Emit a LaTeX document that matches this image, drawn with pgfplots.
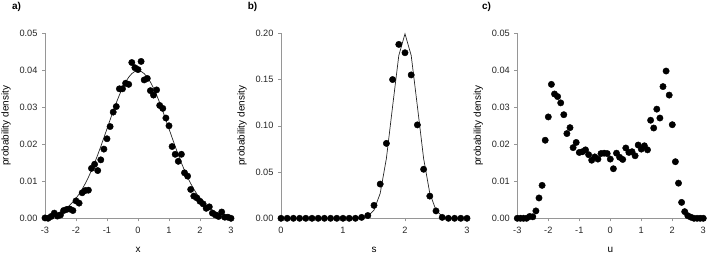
\documentclass[border=0pt]{standalone}
\usepackage{fontspec}
\setmainfont{Liberation Sans}
\usepackage{pgfplots}
\pgfplotsset{compat=1.18}
\definecolor{axgray}{RGB}{150,150,150}
\pgfplotsset{
  panel/.style={
    scale only axis, width=186bp, height=185bp,
    anchor=south west,
    axis lines*=left,
    axis line style={axgray, line width=0.6pt},
    tick style={axgray, line width=0.6pt},
    tick align=outside, major tick length=3bp,
    xtick pos=bottom, ytick pos=left,
    ymin=0,
    clip=false,
    scaled y ticks=false,
    tick label style={font=\fontsize{9.2bp}{10bp}\selectfont, text=black!85},
    label style={font=\fontsize{11bp}{12bp}\selectfont, text=black!85},
    /pgf/number format/assume math mode=true,
    yticklabel style={/pgf/number format/fixed, /pgf/number format/fixed zerofill, /pgf/number format/precision=2, xshift=-1bp},
    xticklabel style={/pgf/number format/fixed, yshift=-2bp},
    ylabel={probability density},
    every axis y label/.style={at={(rel axis cs:0,0.5)}, anchor=center, rotate=90, yshift=39bp},
    every axis x label/.style={at={(rel axis cs:0.5,0)}, anchor=center, yshift=-32bp},
  },
  dots/.style={only marks, mark=*, mark size=3.2bp, mark options={fill=black, draw=black}, black},
  curve/.style={black!85, line width=0.7pt, mark=none},
}
\pgfplotstableread{
x y
-3.0 0.0001
-2.9 0.0000
-2.8 0.0005
-2.7 0.0014
-2.6 0.0006
-2.5 0.0009
-2.4 0.0021
-2.3 0.0024
-2.2 0.0025
-2.1 0.0021
-2.0 0.0047
-1.9 0.0041
-1.8 0.0069
-1.7 0.0075
-1.6 0.0076
-1.5 0.0135
-1.4 0.0146
-1.3 0.0129
-1.2 0.0158
-1.1 0.0187
-1.0 0.0215
-0.9 0.0248
-0.8 0.0287
-0.7 0.0302
-0.6 0.0350
-0.5 0.0350
-0.4 0.0365
-0.3 0.0362
-0.2 0.0421
-0.1 0.0407
0.0 0.0402
0.1 0.0424
0.2 0.0374
0.3 0.0378
0.4 0.0345
0.5 0.0333
0.6 0.0347
0.7 0.0305
0.8 0.0297
0.9 0.0271
1.0 0.0250
1.1 0.0194
1.2 0.0173
1.3 0.0154
1.4 0.0173
1.5 0.0123
1.6 0.0114
1.7 0.0078
1.8 0.0060
1.9 0.0055
2.0 0.0046
2.1 0.0039
2.2 0.0027
2.3 0.0031
2.4 0.0014
2.5 0.0009
2.6 0.0005
2.7 0.0017
2.8 0.0003
2.9 0.0003
3.0 0.0000
}\dataA
\pgfplotstableread{
x y
-3.0 0.00044
-2.9 0.00060
-2.8 0.00079
-2.7 0.00104
-2.6 0.00136
-2.5 0.00175
-2.4 0.00224
-2.3 0.00283
-2.2 0.00355
-2.1 0.00440
-2.0 0.00540
-1.9 0.00656
-1.8 0.00790
-1.7 0.00940
-1.6 0.01109
-1.5 0.01295
-1.4 0.01497
-1.3 0.01714
-1.2 0.01942
-1.1 0.02179
-1.0 0.02420
-0.9 0.02661
-0.8 0.02897
-0.7 0.03123
-0.6 0.03332
-0.5 0.03521
-0.4 0.03683
-0.3 0.03814
-0.2 0.03910
-0.1 0.03970
0.0 0.03989
0.1 0.03970
0.2 0.03910
0.3 0.03814
0.4 0.03683
0.5 0.03521
0.6 0.03332
0.7 0.03123
0.8 0.02897
0.9 0.02661
1.0 0.02420
1.1 0.02179
1.2 0.01942
1.3 0.01714
1.4 0.01497
1.5 0.01295
1.6 0.01109
1.7 0.00940
1.8 0.00790
1.9 0.00656
2.0 0.00540
2.1 0.00440
2.2 0.00355
2.3 0.00283
2.4 0.00224
2.5 0.00175
2.6 0.00136
2.7 0.00104
2.8 0.00079
2.9 0.00060
3.0 0.00044
}\curveA
\pgfplotstableread{
x y
0.0 0
0.1 0
0.2 0
0.3 0
0.4 0
0.5 0
0.6 0
0.7 0
0.8 0
0.9 0
1.0 0
1.1 0
1.2 0
1.3 0.001
1.4 0.003
1.5 0.014
1.6 0.037
1.7 0.081
1.8 0.150
1.9 0.188
2.0 0.179
2.1 0.155
2.2 0.101
2.3 0.053
2.4 0.024
2.5 0.008
2.6 0.001
2.7 0
2.8 0
2.9 0
3.0 0
}\dataB
\pgfplotstableread{
x y
1.1 0.00000
1.2 0.00007
1.3 0.00044
1.4 0.00222
1.5 0.00876
1.6 0.02700
1.7 0.06476
1.8 0.12098
1.9 0.17603
2.0 0.19947
2.1 0.17603
2.2 0.12098
2.3 0.06476
2.4 0.02700
2.5 0.00876
2.6 0.00222
2.7 0.00044
2.8 0.00007
2.9 0.00000
}\curveB
\pgfplotstableread{
x y
-3.0 0
-2.9 0
-2.8 0
-2.7 0
-2.6 0.0005
-2.5 0.0004
-2.4 0.0020
-2.3 0.0055
-2.2 0.0089
-2.1 0.0211
-2.0 0.0274
-1.9 0.0362
-1.8 0.0336
-1.7 0.0329
-1.6 0.0312
-1.5 0.0280
-1.4 0.0229
-1.3 0.0245
-1.2 0.0191
-1.1 0.0205
-1.0 0.0178
-0.9 0.0180
-0.8 0.0185
-0.7 0.0172
-0.6 0.0157
-0.5 0.0166
-0.4 0.0160
-0.3 0.0175
-0.2 0.0176
-0.1 0.0175
0.0 0.0160
0.1 0.0134
0.2 0.0176
0.3 0.0165
0.4 0.0159
0.5 0.0190
0.6 0.0178
0.7 0.0180
0.8 0.0169
0.9 0.0198
1.0 0.0187
1.1 0.0196
1.2 0.0185
1.3 0.0265
1.4 0.0244
1.5 0.0295
1.6 0.0271
1.7 0.0356
1.8 0.0398
1.9 0.0333
2.0 0.0253
2.1 0.0153
2.2 0.0095
2.3 0.0043
2.4 0.0018
2.5 0.0007
2.6 0.0003
2.7 0
2.8 0
2.9 0
3.0 0
}\dataC
\begin{document}
\begin{tikzpicture}
\path[use as bounding box] (0,0) rectangle (708bp,-256bp);
\node[font=\bfseries\fontsize{10bp}{12bp}\selectfont, anchor=center] at (16.5bp,-7bp) {a)};
\node[font=\bfseries\fontsize{10bp}{12bp}\selectfont, anchor=center] at (252.5bp,-7bp) {b)};
\node[font=\bfseries\fontsize{10bp}{12bp}\selectfont, anchor=center] at (486.5bp,-7bp) {c)};
\begin{axis}[panel, at={(45bp,-218.3bp)},
  xmin=-3, xmax=3, ymax=0.05, xtick={-3,-2,-1,0,1,2,3},
  ytick={0,0.01,0.02,0.03,0.04,0.05}, xlabel={x}]
\addplot[curve] table {\curveA};
\addplot[dots] table {\dataA};
\end{axis}
\begin{axis}[panel, at={(281bp,-218.3bp)},
  xmin=0, xmax=3, ymax=0.2, xtick={0,1,2,3},
  ytick={0,0.05,0.10,0.15,0.20}, xlabel={s}]
\addplot[curve] table {\curveB};
\addplot[dots] table {\dataB};
\end{axis}
\begin{axis}[panel, at={(517.3bp,-218.3bp)},
  xmin=-3, xmax=3, ymax=0.05, xtick={-3,-2,-1,0,1,2,3},
  ytick={0,0.01,0.02,0.03,0.04,0.05}, xlabel={u}]
\addplot[dots] table {\dataC};
\end{axis}
\end{tikzpicture}
\end{document}
